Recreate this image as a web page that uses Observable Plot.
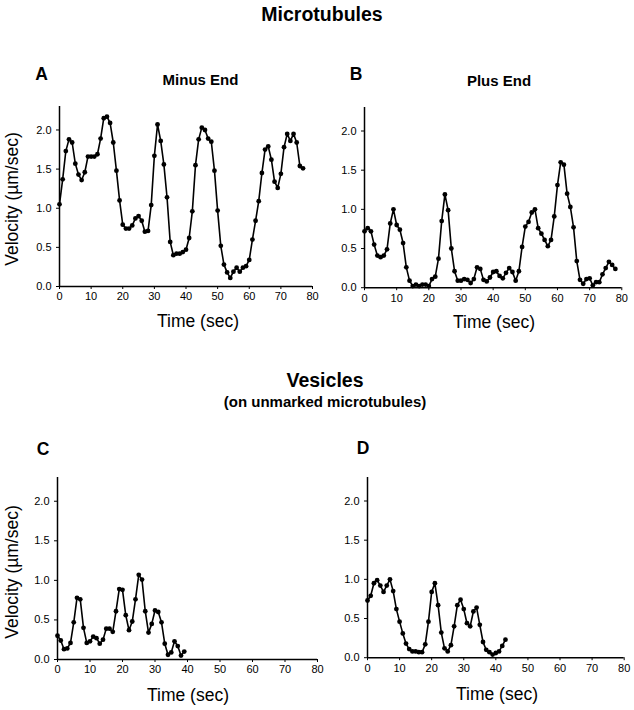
<!DOCTYPE html>
<html>
<head>
<meta charset="utf-8">
<script src="https://cdn.jsdelivr.net/npm/d3@7"></script>
<script src="https://cdn.jsdelivr.net/npm/@observablehq/plot@0.6"></script>
<style>
  html, body { margin: 0; padding: 0; background: #fff; }
  #root { position: relative; width: 634px; height: 710px; overflow: hidden; font-family: "Liberation Sans", Arial, sans-serif; color: #000; }
  .t { position: absolute; white-space: nowrap; font-weight: bold; line-height: 1; }
  .lab { position: absolute; white-space: nowrap; line-height: 1; font-size: 17.5px; }
  .plot { position: absolute; overflow: visible; }
</style>
</head>
<body>
<div id="root"></div>
<script>
// ---- data (velocity in µm/sec, sampled once per second starting at t = 0) ----
const sampleInterval = 1; // sec
const xTicks = [0, 10, 20, 30, 40, 50, 60, 70, 80];
const yTicks = [0, 0.5, 1.0, 1.5, 2.0];

const minusEnd = [1.05, 1.37, 1.73, 1.88, 1.84, 1.57, 1.43, 1.36, 1.46, 1.66,
  1.66, 1.66, 1.69, 1.89, 2.15, 2.17, 2.09, 1.84, 1.48, 1.10,
  0.79, 0.74, 0.74, 0.78, 0.87, 0.90, 0.84, 0.70, 0.71, 1.04,
  1.67, 2.07, 1.86, 1.56, 1.14, 0.57, 0.40, 0.42, 0.42, 0.44,
  0.47, 0.62, 0.96, 1.55, 1.88, 2.03, 2.00, 1.89, 1.85, 1.48,
  0.97, 0.52, 0.28, 0.18, 0.11, 0.19, 0.24, 0.19, 0.24, 0.26,
  0.34, 0.60, 0.84, 1.09, 1.45, 1.75, 1.79, 1.62, 1.34, 1.26,
  1.44, 1.78, 1.95, 1.86, 1.95, 1.84, 1.54, 1.51];

const plusEnd = [0.72, 0.76, 0.72, 0.55, 0.41, 0.39, 0.41, 0.49, 0.82, 1.00,
  0.80, 0.74, 0.57, 0.26, 0.09, 0.02, 0.04, 0.02, 0.04, 0.04,
  0.02, 0.11, 0.14, 0.37, 0.85, 1.19, 0.99, 0.50, 0.21, 0.09,
  0.09, 0.11, 0.10, 0.06, 0.11, 0.26, 0.24, 0.10, 0.08, 0.13,
  0.20, 0.21, 0.15, 0.12, 0.19, 0.25, 0.20, 0.09, 0.21, 0.52,
  0.78, 0.84, 0.96, 1.00, 0.76, 0.69, 0.61, 0.53, 0.61, 0.91,
  1.31, 1.60, 1.57, 1.20, 1.03, 0.77, 0.34, 0.10, 0.05, 0.11,
  0.12, 0.03, 0.07, 0.07, 0.17, 0.25, 0.33, 0.29, 0.24];

const vesicleC = [0.30, 0.24, 0.13, 0.14, 0.21, 0.47, 0.78, 0.76, 0.40, 0.21,
  0.23, 0.29, 0.27, 0.20, 0.25, 0.39, 0.39, 0.35, 0.61, 0.89,
  0.88, 0.56, 0.37, 0.48, 0.76, 1.07, 1.01, 0.61, 0.34, 0.45,
  0.62, 0.60, 0.47, 0.20, 0.06, 0.09, 0.23, 0.17, 0.05, 0.10];

const vesicleD = [0.73, 0.79, 0.95, 0.99, 0.92, 0.84, 0.92, 1.00, 0.85, 0.62,
  0.46, 0.31, 0.18, 0.11, 0.08, 0.08, 0.07, 0.07, 0.17, 0.46,
  0.84, 0.95, 0.67, 0.32, 0.12, 0.08, 0.16, 0.40, 0.67, 0.74,
  0.62, 0.44, 0.40, 0.59, 0.64, 0.42, 0.20, 0.10, 0.07, 0.04,
  0.06, 0.08, 0.15, 0.23];

const titles = {
  top: "Microtubules",
  bottom: "Vesicles",
  bottomSub: "(on unmarked microtubules)",
  minus: "Minus End",
  plus: "Plus End",
  yLabel: "Velocity (µm/sec)",
  xLabel: "Time (sec)"
};

// ---- layout ----
const root = document.getElementById("root");
function addText(cls, text, x, y, size, anchor = "center", extra = {}) {
  const d = document.createElement("div");
  d.className = cls;
  d.textContent = text;
  d.style.fontSize = size + "px";
  d.style.left = x + "px";
  d.style.top = y + "px";
  d.style.transform = anchor === "center" ? "translate(-50%, -50%)" : "translate(0, -50%)";
  Object.assign(d.style, extra);
  root.appendChild(d);
  return d;
}

function panel(values, box) {
  const data = values.map((v, i) => ({t: i * sampleInterval, v}));
  const mL = 45, mR = 15, mT = 5, mB = 20;
  const width = box.x80 - box.x0 + mL + mR;
  const height = box.y0 - box.ytop + mT + mB;
  const svg = Plot.plot({
    width, height,
    marginLeft: mL, marginRight: mR, marginTop: mT, marginBottom: mB,
    style: {fontFamily: "Liberation Sans, Arial, sans-serif", fontSize: "11px", color: "#000", background: "transparent", overflow: "visible"},
    x: {domain: [0, 80]},
    y: {domain: [0, 2.3]},
    marks: [
      Plot.axisX({ticks: xTicks, tickSize: 3, tickPadding: 3, fontSize: 11, label: null, tickFormat: d => String(d)}),
      Plot.axisY({ticks: yTicks, tickSize: 3, tickPadding: 5, fontSize: 11, label: null, tickFormat: d3.format(".1f")}),
      Plot.ruleX([0], {y1: 0, y2: 2.3, stroke: "#000", strokeWidth: 1.5}),
      Plot.ruleY([0], {x1: 0, x2: 80, stroke: "#000", strokeWidth: 1.5}),
      Plot.line(data, {x: "t", y: "v", stroke: "#000", strokeWidth: 1.6}),
      Plot.dot(data, {x: "t", y: "v", r: 2.4, fill: "#000", stroke: "none"})
    ]
  });
  svg.classList.add("plot");
  svg.style.left = (box.x0 - mL) + "px";
  svg.style.top = (box.ytop - mT) + "px";
  root.appendChild(svg);
}

// panels
panel(minusEnd, {x0: 58.7, x80: 311.7, y0: 285.7, ytop: 105.7});
panel(plusEnd,  {x0: 363.7, x80: 621, y0: 287, ytop: 106.8});
panel(vesicleC, {x0: 56.7, x80: 316.7, y0: 659, ytop: 477});
panel(vesicleD, {x0: 367.3, x80: 624, y0: 657, ytop: 476.8});

// titles
addText("t", titles.top, 322, 15, 19.5);
addText("t", titles.bottom, 325, 381, 19.5);
addText("t", titles.bottomSub, 325, 401, 15);
addText("t", "A", 41.5, 75, 17.5);
addText("t", "B", 356, 75, 17.5);
addText("t", "C", 43, 450, 17.5);
addText("t", "D", 363, 449, 17.5);
addText("t", titles.minus, 200.5, 79, 15);
addText("t", titles.plus, 499, 80, 15);

// axis labels
addText("lab", titles.xLabel, 198, 322, 17.5);
addText("lab", titles.xLabel, 494, 323, 17.5);
addText("lab", titles.xLabel, 188, 696, 17.5);
addText("lab", titles.xLabel, 497, 695, 17.5);
addText("lab", titles.yLabel, 12.5, 199, 17.5, "center", {transform: "translate(-50%, -50%) rotate(-90deg)"});
addText("lab", titles.yLabel, 12.5, 572, 17.5, "center", {transform: "translate(-50%, -50%) rotate(-90deg)"});
</script>
</body>
</html>
